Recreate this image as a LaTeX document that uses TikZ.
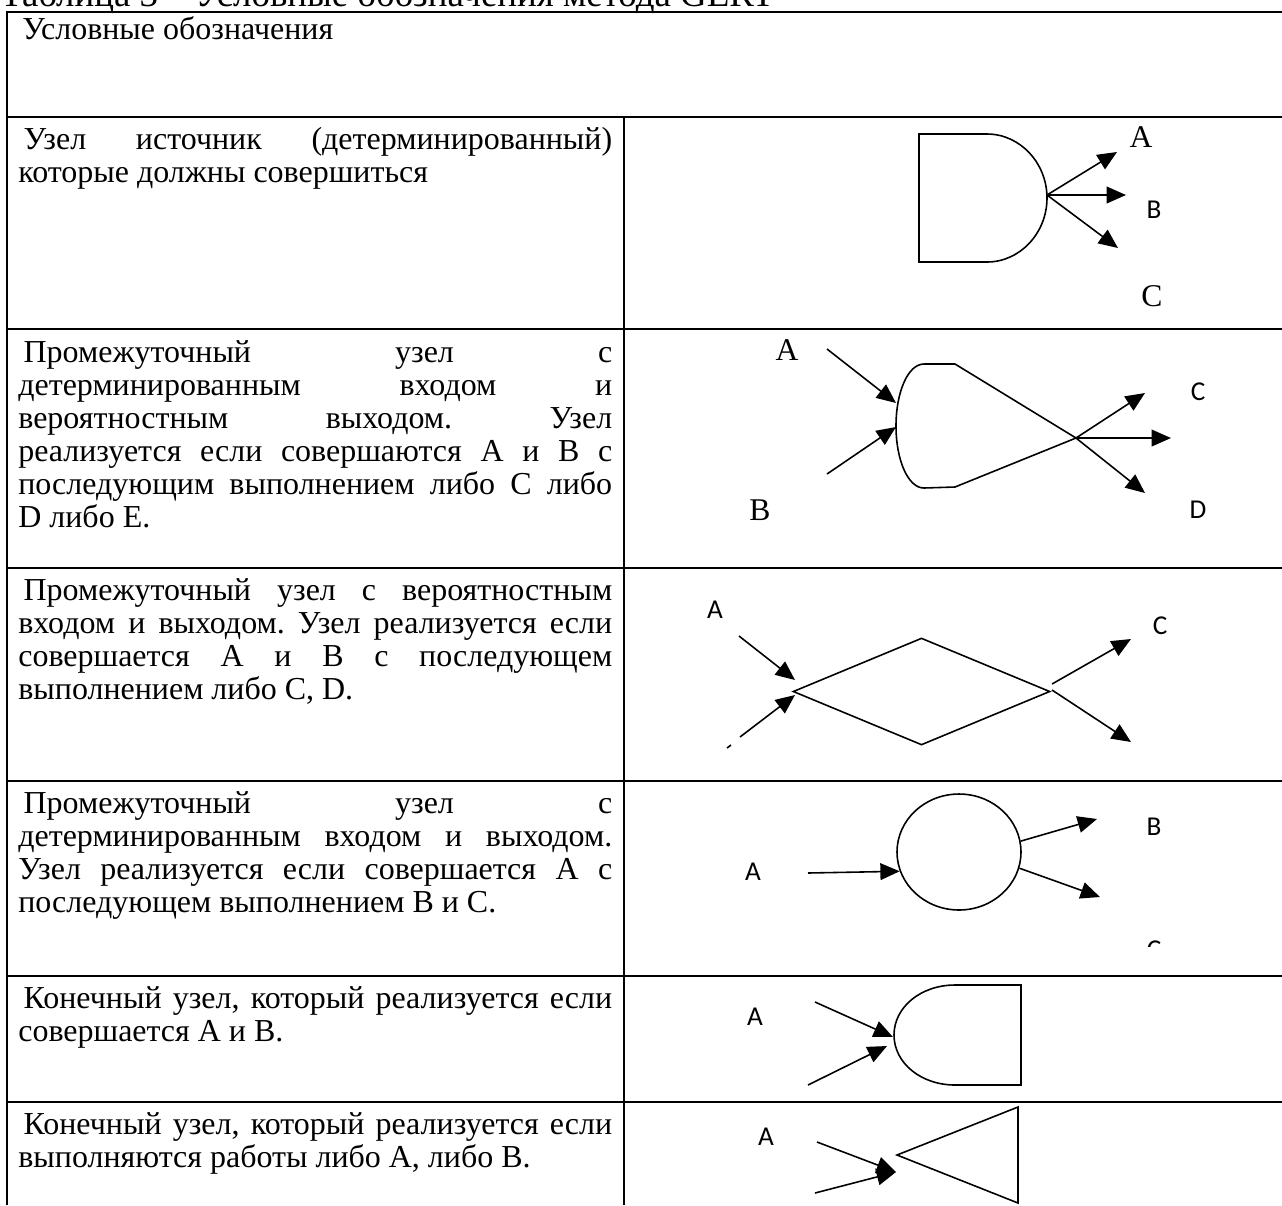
\documentclass[tikz,border=0pt]{standalone}
\usepackage{fontspec}
\setmainfont{Liberation Serif}
\newfontfamily\lblfont{Carlito}
\usetikzlibrary{arrows.meta,shapes.geometric}
% one justified line of a cell
\newcommand{\jl}[1]{\makebox[\linewidth][s]{#1}\\}

\begin{document}
\begin{tikzpicture}[x=0.02cm,y=-0.02cm,
  tabline/.style={line width=1.1pt},
  shp/.style={line width=0.9pt},
  arr/.style={line width=0.9pt,-{Triangle[length=11pt,width=9.5pt]}},
  celltext/.style={anchor=base west,inner sep=0pt,font=\fontsize{18.2}{18.8}\selectfont\frenchspacing},
  lbl/.style={inner sep=0pt,font=\fontsize{18}{18}\selectfont},
  lbls/.style={inner sep=0pt,font=\lblfont\fontsize{15.5}{18}\selectfont}
]
\useasboundingbox (0,0) rectangle (1282,1205);
\clip (0,0) rectangle (1282,1205);

% caption, cut at the top
\node[celltext,font=\fontsize{21}{22}\selectfont] (cap) at (0,6) {Таблица 3 -- Условные обозначения метода GERT};

% the table
\draw[tabline] (7,1205) -- (7,12) -- (1282,12);
\foreach \y in {117,329,568,781,976,1102}
  \draw[tabline] (7,\y) -- (1282,\y);
\draw[tabline] (624,117) -- (624,1205);

% the left column
\node[celltext] (hdr) at (22,39) {Условные обозначения};
\node[celltext] (t1) at (18,149) {\parbox[t]{11.88cm}{%
  \jl{\hspace*{3pt}Узел источник (детерминированный)}%
  которые должны совершиться}};
\node[celltext] (t2) at (18,362) {\parbox[t]{11.88cm}{%
  \jl{\hspace*{3pt}Промежуточный узел с}%
  \jl{детерминированным входом и}%
  \jl{вероятностным выходом. Узел}%
  \jl{реализуется если совершаются A и B с}%
  \jl{последующим выполнением либо C либо}%
  D либо E.}};
\node[celltext] (t3) at (18,600) {\parbox[t]{11.88cm}{%
  \jl{\hspace*{3pt}Промежуточный узел с вероятностным}%
  \jl{входом и выходом. Узел реализуется если}%
  \jl{совершается A и B с последующем}%
  выполнением либо C, D.}};
\node[celltext] (t4) at (18,813) {\parbox[t]{11.88cm}{%
  \jl{\hspace*{3pt}Промежуточный узел с}%
  \jl{детерминированным входом и выходом.}%
  \jl{Узел реализуется если совершается A с}%
  последующем выполнением B и C.}};
\node[celltext] (t5) at (18,1008) {\parbox[t]{11.88cm}{%
  \jl{\hspace*{3pt}Конечный узел, который реализуется если}%
  совершается A и B.}};
\node[celltext] (t6) at (18,1134) {\parbox[t]{11.88cm}{%
  \jl{\hspace*{3pt}Конечный узел, который реализуется если}%
  выполняются работы либо A, либо B.}};

% row 1: source node
\draw[shp] (987,134) -- (919,134) -- (919,262) -- (987,262)
  .. controls (1020,262) and (1047,233) .. (1047,198)
  .. controls (1047,163) and (1020,134) .. (987,134) -- cycle;
\coordinate (s1) at (1047,195);
\coordinate (s1a) at (1117,152);
\coordinate (s1b) at (1126,195);
\coordinate (s1c) at (1118,248);
\draw[arr] (s1) -- (s1a);
\draw[arr] (s1) -- (s1b);
\draw[arr] (s1) -- (s1c);
\node[lbl] (r1a) at (1141,137) {A};
\node[lbls] (r1b) at (1154,210) {B};
\node[lbl] (r1c) at (1152,296) {C};

% row 2: deterministic in, probabilistic out
\coordinate (x2) at (1076,438);
\draw[shp] (x2) -- (955,364) -- (924,364)
  .. controls (908,364) and (896,392) .. (896,426)
  .. controls (896,460) and (908,488) .. (924,488) -- (955,487) -- cycle;
\coordinate (i2a) at (827,349);
\coordinate (e2a) at (896,403);
\coordinate (i2b) at (827,474);
\coordinate (e2b) at (896,427);
\draw[arr] (i2a) -- (e2a);
\draw[arr] (i2b) -- (e2b);
\coordinate (o2c) at (1145,393);
\coordinate (o2m) at (1171,438);
\coordinate (o2d) at (1145,493);
\draw[arr] (x2) -- (o2c);
\draw[arr] (x2) -- (o2m);
\draw[arr] (x2) -- (o2d);
\node[lbl] (r2a) at (787,350) {A};
\node[lbl] (r2b) at (760,510) {B};
\node[lbls] (r2c) at (1198,392) {C};
\node[lbls] (r2d) at (1198,510) {D};

% row 3: probabilistic in and out
\node[shp,draw,diamond,inner sep=0pt,minimum width=5.14cm,minimum height=2.14cm] (d3) at (921.5,691.5) {};
\coordinate (i3a) at (739,636);
\coordinate (e3a) at (795,680);
\coordinate (i3b) at (740,737);
\coordinate (e3b) at (795,695);
\draw[arr] (i3a) -- (e3a);
\draw[arr] (i3b) -- (e3b);
\draw[shp] (727,748) -- (731,745);
\coordinate (s3c) at (1052,684);
\coordinate (s3d) at (1052,690);
\coordinate (o3c) at (1131,639);
\coordinate (o3d) at (1131,742);
\draw[arr] (s3c) -- (o3c);
\draw[arr] (s3d) -- (o3d);
\node[lbls] (r3a) at (715,610) {A};
\node[lbls] (r3c) at (1160,626) {C};

% row 4: deterministic in and out
\node[shp,draw,ellipse,inner sep=0pt,minimum width=2.48cm,minimum height=2.32cm] (c4) at (959,852) {};
\coordinate (i4) at (808,873);
\draw[arr] (i4) -- (c4.198);
\coordinate (o4b) at (1097,819);
\coordinate (o4c) at (1100,897);
\draw[arr] (c4.10) -- (o4b);
\draw[arr] (c4.345) -- (o4c);
\node[lbls] (r4a) at (753,872) {A};
\node[lbls] (r4b) at (1154,827) {B};
\begin{scope}
  \clip (1100,900) rectangle (1220,946);
  \node[lbls] (r4c) at (1154,950) {C};
\end{scope}

% row 5: end node, A and B
\draw[shp] (955,985) -- (1021,985) -- (1021,1085) -- (955,1085)
  .. controls (921,1085) and (894,1063) .. (894,1035)
  .. controls (894,1007) and (921,985) .. (955,985) -- cycle;
\coordinate (i5a) at (815,1002);
\coordinate (e5a) at (893,1037);
\coordinate (i5b) at (808,1085);
\coordinate (e5b) at (887,1046);
\draw[arr] (i5a) -- (e5a);
\draw[arr] (i5b) -- (e5b);
\node[lbls] (r5a) at (755,1017) {A};

% row 6: end node, A or B
\draw[shp] (897,1155) -- (1018,1107) -- (1018,1203) -- cycle;
\coordinate (i6a) at (817,1142);
\coordinate (i6b) at (815,1193);
\coordinate (e6) at (896,1172);
\draw[arr] (i6a) -- (e6);
\draw[arr] (i6b) -- (e6);
\node[lbls] (r6a) at (766,1137) {A};
\end{tikzpicture}
\end{document}
